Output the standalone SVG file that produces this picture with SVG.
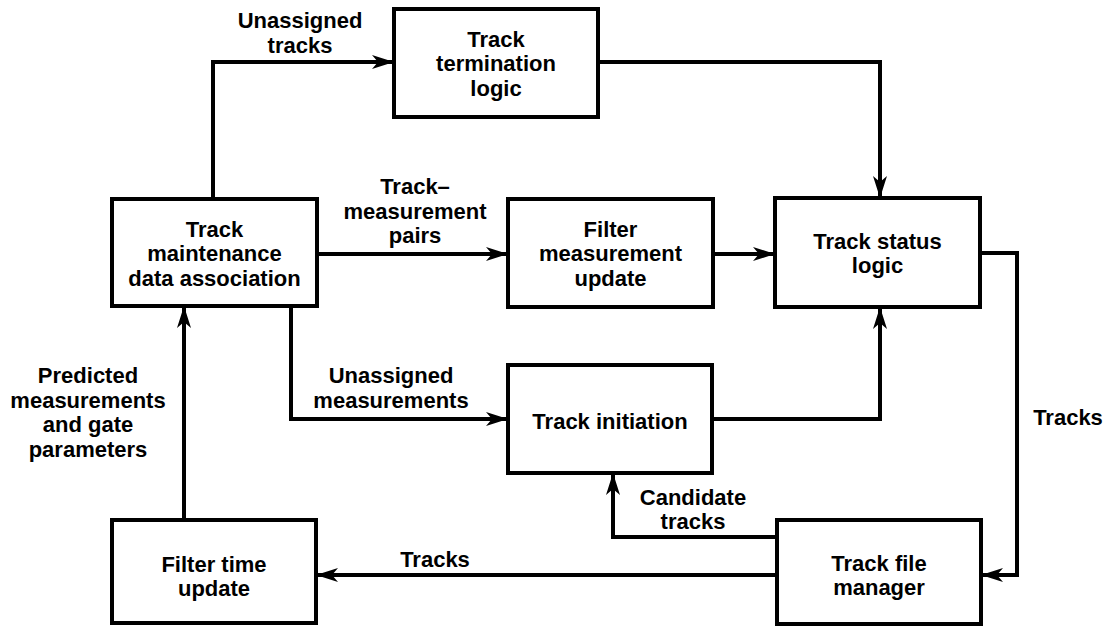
<svg xmlns="http://www.w3.org/2000/svg" width="1106" height="629" viewBox="0 0 1106 629">
<style>
.box{fill:#fff;stroke:#000;stroke-width:4;stroke-linejoin:miter}
.t{font-family:"Liberation Sans",Arial,Helvetica,sans-serif;font-weight:bold;font-size:22px;fill:#000;text-anchor:middle}
.c{fill:none;stroke:#000;stroke-width:4;stroke-linejoin:miter;marker-end:url(#ah)}
.cn{fill:none;stroke:#000;stroke-width:4;stroke-linejoin:miter}
</style>
<defs>
<marker id="ah" markerUnits="userSpaceOnUse" markerWidth="22" markerHeight="16" refX="22" refY="8" orient="auto" viewBox="0 0 22 16">
<path d="M0,1 L22,8 L0,15 L6,8 Z" fill="#000"/>
</marker>
</defs>
<rect width="1106" height="629" fill="#fff"/>
<g id="connectors">
<path class="c" d="M213,199 V62 H394"/>
<path class="c" d="M598,62 H880 V198"/>
<path class="c" d="M317,254 H508"/>
<path class="c" d="M713,254 H775"/>
<path class="c" d="M291,306 V419 H508"/>
<path class="c" d="M712,419 H880 V307"/>
<path class="c" d="M980,253 H1017 V575 H981"/>
<path class="c" d="M777,537 H613 V473"/>
<path class="c" d="M777,575 H316"/>
<path class="c" d="M184,520 V306"/>
</g>
<g id="labels">
<text class="t" x="300" y="28">Unassigned</text>
<text class="t" x="300" y="53">tracks</text>
<text class="t" x="415" y="194">Track–</text>
<text class="t" x="415" y="219">measurement</text>
<text class="t" x="415" y="243">pairs</text>
<text class="t" x="88" y="383">Predicted</text>
<text class="t" x="88" y="408">measurements</text>
<text class="t" x="88" y="432">and gate</text>
<text class="t" x="88" y="457">parameters</text>
<text class="t" x="391" y="383">Unassigned</text>
<text class="t" x="391" y="408">measurements</text>
<text class="t" x="435" y="567">Tracks</text>
<text class="t" x="693" y="505">Candidate</text>
<text class="t" x="693" y="529">tracks</text>
<text class="t" x="1068" y="425">Tracks</text>
</g>
<g id="node-track-maintenance">
<rect class="box" x="112" y="199" width="205" height="107"/>
<text class="t" x="214.5" y="237">Track</text>
<text class="t" x="214.5" y="261">maintenance</text>
<text class="t" x="214.5" y="286">data association</text>
</g>
<g id="node-track-termination">
<rect class="box" x="394" y="9" width="204" height="108"/>
<text class="t" x="496" y="47">Track</text>
<text class="t" x="496" y="71">termination</text>
<text class="t" x="496" y="96">logic</text>
</g>
<g id="node-filter-measurement">
<rect class="box" x="508" y="199" width="205" height="108"/>
<text class="t" x="610.5" y="237">Filter</text>
<text class="t" x="610.5" y="261">measurement</text>
<text class="t" x="610.5" y="286">update</text>
</g>
<g id="node-track-status">
<rect class="box" x="775" y="198" width="205" height="109"/>
<text class="t" x="877.5" y="249">Track status</text>
<text class="t" x="877.5" y="273">logic</text>
</g>
<g id="node-track-initiation">
<rect class="box" x="508" y="365" width="204" height="108"/>
<text class="t" x="610" y="429">Track initiation</text>
</g>
<g id="node-filter-time">
<rect class="box" x="112" y="520" width="204" height="103"/>
<text class="t" x="214" y="572">Filter time</text>
<text class="t" x="214" y="596">update</text>
</g>
<g id="node-track-file-manager">
<rect class="box" x="777" y="520" width="204" height="104"/>
<text class="t" x="879" y="571">Track file</text>
<text class="t" x="879" y="595">manager</text>
</g>
</svg>
